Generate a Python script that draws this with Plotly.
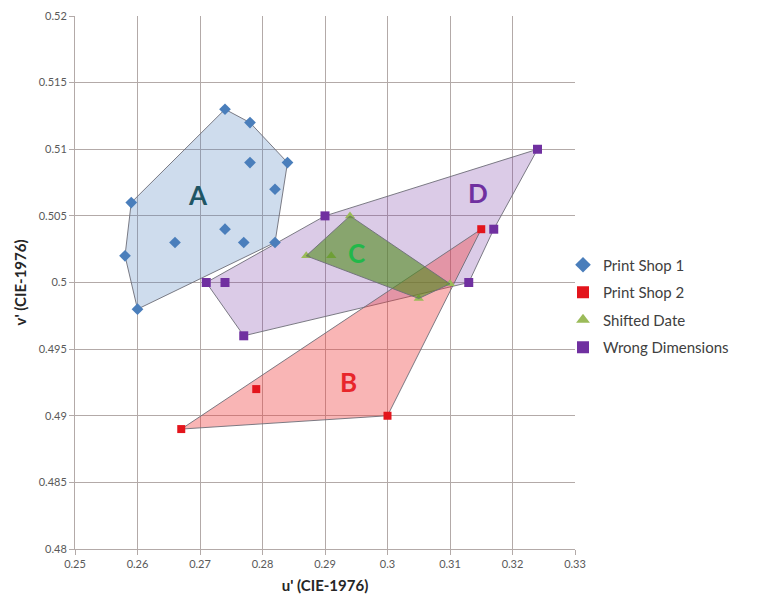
import plotly.graph_objects as go

# Data
ps1_u = [0.274, 0.278, 0.284, 0.278, 0.282, 0.259, 0.258, 0.266, 0.274, 0.277, 0.282, 0.260]
ps1_v = [0.513, 0.512, 0.509, 0.509, 0.507, 0.506, 0.502, 0.503, 0.504, 0.503, 0.503, 0.498]

ps2_u = [0.315, 0.300, 0.267, 0.279]
ps2_v = [0.504, 0.490, 0.489, 0.492]

sd_u = [0.294, 0.287, 0.291, 0.305, 0.310]
sd_v = [0.505, 0.502, 0.502, 0.4988, 0.4999]

wd_u = [0.324, 0.290, 0.317, 0.313, 0.271, 0.274, 0.277]
wd_v = [0.510, 0.505, 0.504, 0.500, 0.500, 0.500, 0.496]

# hull vertex orders (indices into each series)
hull_A = [0, 1, 2, 10, 11, 6, 5]
hull_B = [2, 0, 1]
hull_C = [1, 0, 4, 3]
hull_D = [4, 1, 0, 2, 3, 6]

labels = ["A", "B", "C", "D"]
label_u = [0.2697, 0.2937, 0.2950, 0.3145]
label_v = [0.5066, 0.4925, 0.5022, 0.5067]
label_colors = ["#1f5564", "#e8262a", "#22b84a", "#7030a0"]

x_ticks = [0.25, 0.26, 0.27, 0.28, 0.29, 0.30, 0.31, 0.32, 0.33]
x_ticktext = ["0.25", "0.26", "0.27", "0.28", "0.29", "0.3", "0.31", "0.32", "0.33"]
y_ticks = [0.48, 0.485, 0.49, 0.495, 0.50, 0.505, 0.51, 0.515, 0.52]
y_ticktext = ["0.48", "0.485", "0.49", "0.495", "0.5", "0.505", "0.51", "0.515", "0.52"]

FONT = "Lato, 'Open Sans', sans-serif"
fig = go.Figure()


def poly(us, vs, idx, fill):
    xs = [us[i] for i in idx] + [us[idx[0]]]
    ys = [vs[i] for i in idx] + [vs[idx[0]]]
    return go.Scatter(x=xs, y=ys, mode="lines", fill="toself", fillcolor=fill,
                      line=dict(color="rgba(110,110,120,0.9)", width=1),
                      showlegend=False, hoverinfo="skip")


fig.add_trace(poly(ps1_u, ps1_v, hull_A, "rgba(79,129,189,0.28)"))
fig.add_trace(poly(wd_u, wd_v, hull_D, "rgba(112,48,160,0.25)"))
fig.add_trace(poly(ps2_u, ps2_v, hull_B, "rgba(240,60,60,0.38)"))

fig.add_trace(go.Scatter(x=ps1_u, y=ps1_v, mode="markers", name="Print Shop 1", legendgroup="g1",
                         marker=dict(symbol="diamond", size=9, color="#4a7ebb")))
fig.add_trace(go.Scatter(x=ps2_u, y=ps2_v, mode="markers", name="Print Shop 2", legendgroup="g2",
                         marker=dict(symbol="square", size=8, color="#e3151c")))
fig.add_trace(go.Scatter(x=sd_u, y=sd_v, mode="markers", name="Shifted Date", legendgroup="g3",
                         marker=dict(symbol="triangle-up", size=9, color="#9bbb59")))
fig.add_trace(go.Scatter(x=wd_u, y=wd_v, mode="markers", name="Wrong Dimensions", legendgroup="g4",
                         marker=dict(symbol="square", size=9, color="#7030a0")))

fig.add_trace(poly(sd_u, sd_v, hull_C, "rgba(80,140,30,0.6)"))

for t, u, v, c in zip(labels, label_u, label_v, label_colors):
    fig.add_annotation(x=u, y=v, text="<b>%s</b>" % t, showarrow=False,
                       font=dict(family=FONT, size=26, color=c))

axis_common = dict(showgrid=True, gridcolor="#b3aaa8", gridwidth=1,
                   showline=True, linecolor="#b3aaa8", linewidth=1,
                   ticks="outside", ticklen=5, tickcolor="#b3aaa8",
                   tickfont=dict(family=FONT, size=11, color="#595959"),
                   zeroline=False, automargin=False)

fig.update_xaxes(range=[0.25, 0.33], tickvals=x_ticks, ticktext=x_ticktext,
                 title=dict(text="<b>u' (CIE-1976)</b>", font=dict(family=FONT, size=15, color="#262626"), standoff=11),
                 **axis_common)
fig.update_yaxes(range=[0.48, 0.52], tickvals=y_ticks, ticktext=y_ticktext,
                 title=dict(text="<b>v' (CIE-1976)</b>", font=dict(family=FONT, size=15, color="#262626"), standoff=8),
                 **axis_common)

fig.update_layout(
    width=755, height=589,
    margin=dict(l=67, r=188, t=8, b=48),
    plot_bgcolor="white", paper_bgcolor="white",
    legend=dict(x=0.976, xanchor="left", y=0.456, yanchor="middle",
                font=dict(family=FONT, size=15, color="#404040"),
                tracegroupgap=5, itemsizing="constant", bgcolor="rgba(0,0,0,0)"),
)

fig.write_html("out.html")
